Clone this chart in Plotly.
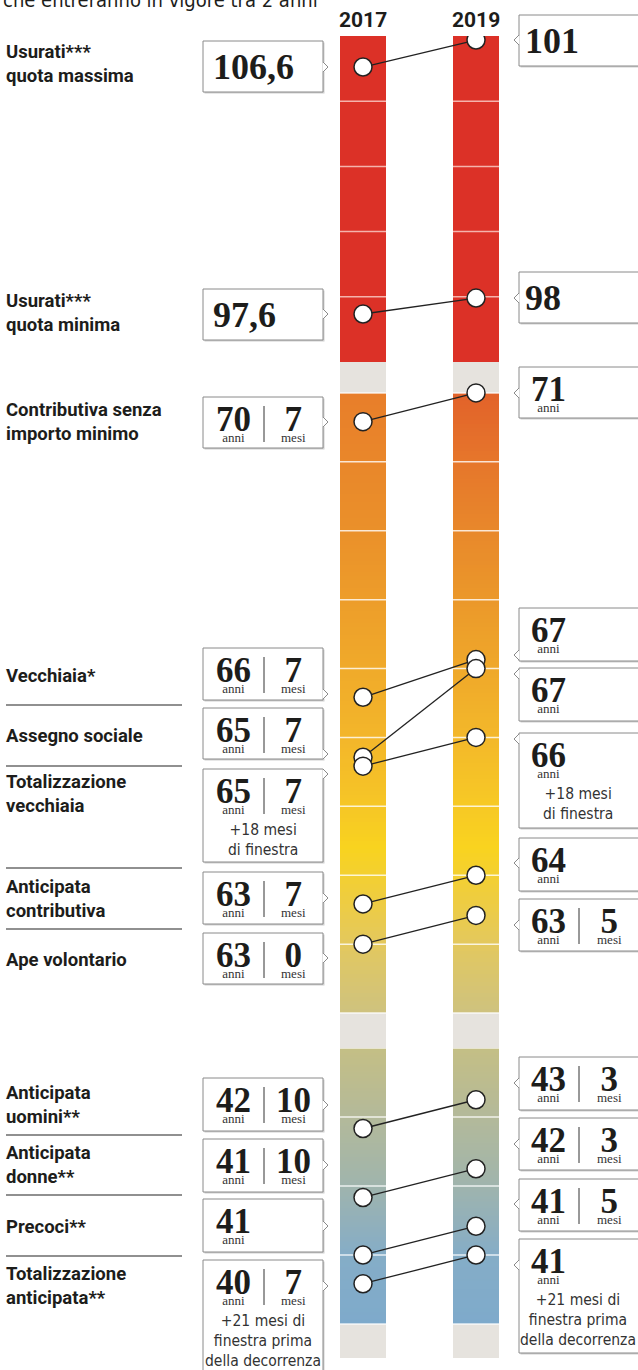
import numpy as np
import plotly.graph_objects as go

W, H = 638, 1370

# ---------------- DATA ----------------
years = [2017, 2019]
categories = [
    "Usurati***<br>quota massima", "Usurati***<br>quota minima",
    "Contributiva senza<br>importo minimo", "Vecchiaia*", "Assegno sociale",
    "Totalizzazione<br>vecchiaia", "Anticipata<br>contributiva", "Ape volontario",
    "Anticipata<br>uomini**", "Anticipata<br>donne**", "Precoci**",
    "Totalizzazione<br>anticipata**",
]
# quota (eta + contributi) for usurati
quota_2017 = [106.6, 97.6]
quota_2019 = [101, 98]
# eta anagrafica (anni, mesi)
eta_anni_2017 = [70, 66, 65, 65, 63, 63]
eta_mesi_2017 = [7, 7, 7, 7, 7, 0]
eta_anni_2019 = [71, 67, 67, 66, 64, 63]
eta_mesi_2019 = [None, None, None, None, None, 5]
# anni di contributi (anni, mesi)
contr_anni_2017 = [42, 41, 41, 40]
contr_mesi_2017 = [10, 10, None, 7]
contr_anni_2019 = [43, 42, 41, 41]
contr_mesi_2019 = [3, 3, 5, None]
# notes under values
note_2017 = [None, None, None, None, None, "+18 mesi<br>di finestra", None, None,
             None, None, None, "+21 mesi di<br>finestra prima<br>della decorrenza"]
note_2019 = [None, None, None, None, None, "+18 mesi<br>di finestra", None, None,
             None, None, None, "+21 mesi di<br>finestra prima<br>della decorrenza"]
subtitle = "che entreranno in vigore tra 2 anni"

# ---------------- STYLE / LAYOUT ----------------
SANS_B = "Roboto, 'Liberation Sans', sans-serif"
SANS_N = "'Liberation Sans Narrow', 'DejaVu Sans Condensed', Roboto, sans-serif"
SERIF = "'Liberation Serif', 'DejaVu Serif', serif"
INK = "#1d1d1b"
RED = "#DC3127"
GRAY = "#E6E3DE"
BOXLINE = "#8a8a8a"


def X(px):
    return px / W


def Y(py):
    return 1 - py / H


# x axis: year -> pixel
PX_PER_YEAR = 56.5
XR = [2017 - 363 / PX_PER_YEAR, 2017 + (W - 363) / PX_PER_YEAR]
BW = 46 / PX_PER_YEAR

# row domains (pixel top/bottom)
ROWS = {1: (36, 362), 2: (362, 1048), 3: (1048, 1358)}
Y1R = [95.851, 107.730]   # quota axis for 2017 column
Y4R = [97.256, 101.047]   # quota axis for 2019 column
Y2R = [61.493, 71.449]    # eta
Y3R = [39.507, 44.0]      # contributi

fig = go.Figure()


def to_val(a, m):
    return a + (m or 0) / 12.0


def rect(xc, lo, hi, color, xa, ya):
    fig.add_trace(go.Scatter(
        x=[xc - BW / 2, xc + BW / 2, xc + BW / 2, xc - BW / 2, xc - BW / 2],
        y=[lo, lo, hi, hi, lo], mode="lines", fill="toself", fillcolor=color,
        line=dict(width=0), hoverinfo="skip", showlegend=False,
        xaxis=xa, yaxis=ya))


def gradient(xc, lo, hi, stops, xa, ya):
    edges = np.linspace(lo, hi, 160)
    centers = (edges[:-1] + edges[1:]) / 2
    cs = [[(v - lo) / (hi - lo), c] for v, c in stops]
    fig.add_trace(go.Heatmap(
        x=[xc - BW / 2, xc + BW / 2], y=edges, z=[[c] for c in centers],
        colorscale=cs, zmin=lo, zmax=hi, showscale=False, hoverinfo="skip",
        xaxis=xa, yaxis=ya))


def whitelines(vals, xa, ya, color="rgba(255,255,255,0.8)"):
    xs, ys = [], []
    for yr in years:
        for v in vals:
            xs += [yr - BW / 2, yr + BW / 2, None]
            ys += [v, v, None]
    fig.add_trace(go.Scatter(x=xs, y=ys, mode="lines",
                             line=dict(color=color, width=1.5),
                             hoverinfo="skip", showlegend=False,
                             xaxis=xa, yaxis=ya))


stops_eta = {
    2017: [(62, "#CEC27F"), (63, "#E3C85E"), (63.7, "#EFCD3E"), (64.4, "#F8D31F"),
           (65, "#F6C626"), (66, "#F3B62A"), (67, "#F0AA2A"), (68, "#ED9D2A"),
           (69, "#EA902A"), (70, "#E9872A"), (71, "#E87E2A")],
    2019: [(62, "#CEC27F"), (63, "#E3C85E"), (63.7, "#EFCD3E"), (64.4, "#F9D31F"),
           (65, "#F7C925"), (66, "#F3B82A"), (67, "#EFA82A"), (68, "#EB982A"),
           (69, "#E8882B"), (70, "#E6762B"), (71, "#E2622A")],
}
stops_contr = [(40, "#7EAACB"), (41, "#85ADC7"), (41.5, "#92B0BA"), (42, "#9FB4AD"),
               (42.5, "#A9B7A3"), (43, "#B3B99A"), (43.5, "#BCBC8F"), (44, "#C4BF85")]

# --- bars ---
for yr in years:
    rect(yr, Y1R[0], Y1R[1], RED, "x", "y")
    gradient(yr, 62, 71, stops_eta[yr], "x2", "y2")
    rect(yr, Y2R[0], 62, GRAY, "x2", "y2")
    rect(yr, 71, Y2R[1], GRAY, "x2", "y2")
    gradient(yr, 40, 44, stops_contr, "x3", "y3")
    rect(yr, Y3R[0], 40, GRAY, "x3", "y3")

q_lines = [Y1R[0] + k * (Y1R[1] - Y1R[0]) / 5 for k in range(1, 5)]
whitelines(q_lines, "x", "y", "rgba(255,235,230,0.7)")
whitelines(list(range(62, 72)), "x2", "y2")
whitelines(list(range(40, 45)), "x3", "y3")

# --- values ---
eta17 = [to_val(a, m) for a, m in zip(eta_anni_2017, eta_mesi_2017)]
eta19 = [to_val(a, m) for a, m in zip(eta_anni_2019, eta_mesi_2019)]
con17 = [to_val(a, m) for a, m in zip(contr_anni_2017, contr_mesi_2017)]
con19 = [to_val(a, m) for a, m in zip(contr_anni_2019, contr_mesi_2019)]


def dodge(vals, step=0.13):
    # lift the first of two coincident points so both circles stay visible
    out = list(vals)
    for i in range(len(vals)):
        for j in range(i + 1, len(vals)):
            if abs(vals[i] - vals[j]) < 1e-9:
                out[i] = vals[i] + step
    return out


eta17d, eta19d = dodge(eta17), dodge(eta19)


def conv(v):
    f = (v - Y4R[0]) / (Y4R[1] - Y4R[0])
    return Y1R[0] + f * (Y1R[1] - Y1R[0])


def connectors(v17, v19, xa, ya):
    xs, ys = [], []
    for a, b in zip(v17, v19):
        xs += [2017, 2019, None]
        ys += [a, b, None]
    fig.add_trace(go.Scatter(x=xs, y=ys, mode="lines",
                             line=dict(color="#222", width=1.3),
                             hoverinfo="skip", showlegend=False,
                             xaxis=xa, yaxis=ya))


def dots(xv, yv, xa, ya):
    fig.add_trace(go.Scatter(x=xv, y=yv, mode="markers",
                             marker=dict(size=18, color="white",
                                         line=dict(color="#222", width=1.5)),
                             hoverinfo="skip", showlegend=False,
                             xaxis=xa, yaxis=ya))


connectors(quota_2017, [conv(v) for v in quota_2019], "x", "y")
dots([2017] * len(quota_2017), quota_2017, "x", "y")
dots([2019] * len(quota_2019), quota_2019, "x", "y4")
connectors(eta17d, eta19d, "x2", "y2")
dots([2017] * len(eta17d) + [2019] * len(eta19d), eta17d + eta19d, "x2", "y2")
connectors(con17, con19, "x3", "y3")
dots([2017] * len(con17) + [2019] * len(con19), con17 + con19, "x3", "y3")

# ---------------- layout: axes ----------------
ax_common = dict(showgrid=False, zeroline=False, showticklabels=False,
                 ticks="", showline=False, fixedrange=True)
lay = dict(
    width=W, height=H, margin=dict(l=0, r=0, t=0, b=0),
    paper_bgcolor="white", plot_bgcolor="rgba(0,0,0,0)", showlegend=False,
)
for r, ya in zip([1, 2, 3], ["yaxis", "yaxis2", "yaxis3"]):
    t, b = ROWS[r]
    xa = "xaxis" if r == 1 else f"xaxis{r}"
    lay[xa] = dict(domain=[0, 1], range=XR, anchor="y" if r == 1 else f"y{r}", **ax_common)
    rng = {1: Y1R, 2: Y2R, 3: Y3R}[r]
    lay[ya] = dict(domain=[Y(b), Y(t)], range=rng,
                   anchor="x" if r == 1 else f"x{r}", **ax_common)
lay["yaxis4"] = dict(domain=[Y(362), Y(36)], range=Y4R, overlaying="y",
                     anchor="x", **ax_common)
fig.update_layout(**lay)

annotations = []
shapes = []


def text(x, y, s, size, family, color=INK, xanchor="center", bold=False,
         xref="paper", align="center"):
    annotations.append(dict(
        x=x if xref != "paper" else X(x), y=Y(y), xref=xref, yref="paper",
        text=(f"<b>{s}</b>" if bold else s), showarrow=False,
        xanchor=xanchor, yanchor="middle", align=align,
        font=dict(size=size, family=family, color=color)))


# subtitle (cut off at top)
text(1, 0, subtitle, 20, SANS_N, xanchor="left", align="left")

# years
for yr in years:
    text(yr, 20, str(yr), 21, SANS_B, bold=True, xref="x")

# left labels
label_centers = [64.5, 313, 422.5, 676, 736, 794, 898.5, 960, 1104.5, 1164.5, 1227, 1286]
for lab, cy in zip(categories, label_centers):
    text(4, cy, lab, 18.5, SANS_B, xanchor="left", bold=True, align="left")

# separators
for sy in [705, 766, 868, 929, 1135, 1195, 1256]:
    shapes.append(dict(type="line", xref="paper", yref="paper",
                       x0=X(6), x1=X(182), y0=Y(sy), y1=Y(sy),
                       line=dict(color="#6b6b6b", width=1.5)))

# boxes
left_boxes = [(41, 92, 67), (289, 340, 314), (397, 448, 422), (648, 700, 694),
              (708, 759, 754), (769, 862, 774), (872, 924, 898), (933, 984, 958),
              (1078, 1131, 1105), (1139, 1192, 1165), (1199, 1252, 1226),
              (1260, 1378, 1286)]
right_boxes = [(15, 66, 40), (272, 323, 298), (367, 418, 393), (608, 661, 655),
               (668, 721, 674), (733, 828, 739), (838, 891, 863), (899, 951, 925),
               (1057, 1110, 1083), (1118, 1170, 1144), (1179, 1231, 1204),
               (1239, 1353, 1265)]


def box(x0, x1, top, bot, ny, side):
    shapes.append(dict(type="rect", xref="paper", yref="paper",
                       x0=X(x0 + 1.5), x1=X(x1 + 1.5), y0=Y(bot + 1.5), y1=Y(top + 1.5),
                       line=dict(width=0), fillcolor="#cfcfcf", layer="above"))
    shapes.append(dict(type="rect", xref="paper", yref="paper",
                       x0=X(x0), x1=X(x1), y0=Y(bot), y1=Y(top),
                       line=dict(color=BOXLINE, width=1), fillcolor="white", layer="above"))
    if side == "right":
        ex, tip = x1, x1 + 5
    else:
        ex, tip = x0, x0 - 5
    shapes.append(dict(type="rect", xref="paper", yref="paper",
                       x0=X(min(ex, tip) - 0.5), x1=X(max(ex, tip) + 0.5),
                       y0=Y(ny + 4.5), y1=Y(ny - 4.5),
                       line=dict(width=0), fillcolor="white", layer="above"))
    shapes.append(dict(type="path", xref="paper", yref="paper",
                       path=f"M {X(ex)},{Y(ny - 5)} L {X(tip)},{Y(ny)} L {X(ex)},{Y(ny + 5)}",
                       line=dict(color=BOXLINE, width=1), fillcolor="rgba(0,0,0,0)",
                       layer="above"))


def stacked(n, unit):
    # big number with its unit right below, one text block (tight line spacing)
    return (f'<b><span style="font-size:35px">{n}</span></b><br>'
            f'<span style="font-size:13px;fill:#333">{unit}</span>')


NUM_CY = 25.5   # centre of number+unit block below box top


def content(top, anni, mesi, note, ncx, dx, mcx, bcx):
    text(ncx, top + NUM_CY, stacked(anni, "anni"), 8.5, SERIF)
    if mesi is not None:
        shapes.append(dict(type="line", xref="paper", yref="paper",
                           x0=X(dx), x1=X(dx), y0=Y(top + 9), y1=Y(top + 45),
                           line=dict(color="#333", width=1), layer="above"))
        text(mcx, top + NUM_CY, stacked(mesi, "mesi"), 8.5, SERIF)
    if note:
        nl = len(note.split("<br>"))
        text(bcx, top + 61 + 10 * (nl - 1), note, 15.5, SANS_N, color="#333")


def fmt_q(v):
    return f"{v:g}".replace(".", ",")


anni17 = [None, None] + eta_anni_2017 + contr_anni_2017
mesi17 = [None, None] + eta_mesi_2017 + contr_mesi_2017
anni19 = [None, None] + eta_anni_2019 + contr_anni_2019
mesi19 = [None, None] + eta_mesi_2019 + contr_mesi_2019

for i, (t, b, ny) in enumerate(left_boxes):
    box(203, 323, t, b, ny, "right")
    if i < 2:
        text(211, (t + b) / 2, fmt_q(quota_2017[i]), 36, SERIF, bold=True, xanchor="left")
    else:
        content(t, anni17[i], mesi17[i], note_2017[i], 233, 264, 293, 263)

for i, (t, b, ny) in enumerate(right_boxes):
    box(519, 645, t, b, ny, "left")
    if i < 2:
        text(523, (t + b) / 2, fmt_q(quota_2019[i]), 36, SERIF, bold=True, xanchor="left")
    else:
        content(t, anni19[i], mesi19[i], note_2019[i], 548.5, 579, 609, 578)

fig.update_layout(annotations=annotations, shapes=shapes)
fig.write_html("out.html", config={"displayModeBar": False},
               post_script="document.body.style.margin='0px';document.body.style.padding='0px';")
